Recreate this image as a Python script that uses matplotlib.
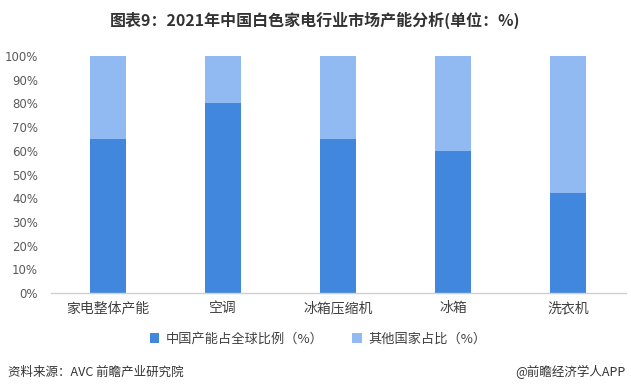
import matplotlib
matplotlib.use("Agg")
import matplotlib.pyplot as plt
import numpy as np

plt.rcParams['font.family'] = ['Noto Sans CJK SC', 'DejaVu Sans']

categories = ['家电整体产能', '空调', '冰箱压缩机', '冰箱', '洗衣机']
china_share = [65, 80, 65, 60, 42]
other_share = [35, 20, 35, 40, 58]
series_names = ['中国产能占全球比例（%）', '其他国家占比（%）']
yticks = [0, 10, 20, 30, 40, 50, 60, 70, 80, 90, 100]

c_dark = '#4287de'
c_light = '#91b9f2'

W, H = 631, 390
fig = plt.figure(figsize=(W/100, H/100), dpi=100)
ax = fig.add_axes([50.5/W, (H-293)/H, (625.5-50.5)/W, (293-56)/H])

x = np.arange(len(categories))
bw = 0.313
ax.bar(x, china_share, width=bw, color=c_dark, label=series_names[0], zorder=2)
ax.bar(x, other_share, width=bw, bottom=china_share, color=c_light, label=series_names[1], zorder=2)

ax.set_xlim(-0.5, len(categories) - 0.5)
ax.set_ylim(0, 100)
ax.set_yticks(yticks)
ax.set_yticklabels([f'{v}%' for v in yticks], fontsize=8.5, color='#595959', family=['DejaVu Sans'])
ax.set_xticks(x)
ax.set_xticklabels(categories, fontsize=10, color='#404040')
ax.tick_params(axis='both', length=0)
ax.tick_params(axis='y', pad=9)
ax.tick_params(axis='x', pad=6)
for s in ['top', 'right', 'left']:
    ax.spines[s].set_visible(False)
ax.spines['bottom'].set_color('#d0d0d0')
ax.spines['bottom'].set_linewidth(1.0)

fig.text(0.5, 1 - 20/H, '图表9：2021年中国白色家电行业市场产能分析(单位：%)', ha='center', va='center',
         fontsize=11.5, fontweight='bold', color='#333333')

leg = fig.legend(loc='center', bbox_to_anchor=(318/W, 1 - 339/H), ncol=2, frameon=False,
                 fontsize=9.5, handlelength=0.7, handleheight=0.7, columnspacing=2.2, handletextpad=0.5)
for t in leg.get_texts():
    t.set_color('#404040')

fig.text(8/W, 1 - 372/H, '资料来源：AVC 前瞻产业研究院', ha='left', va='center', fontsize=9, color='#333333')
fig.text(626/W, 1 - 372/H, '@前瞻经济学人APP', ha='right', va='center', fontsize=9, color='#333333')

fig.savefig('out.png', dpi=100)
